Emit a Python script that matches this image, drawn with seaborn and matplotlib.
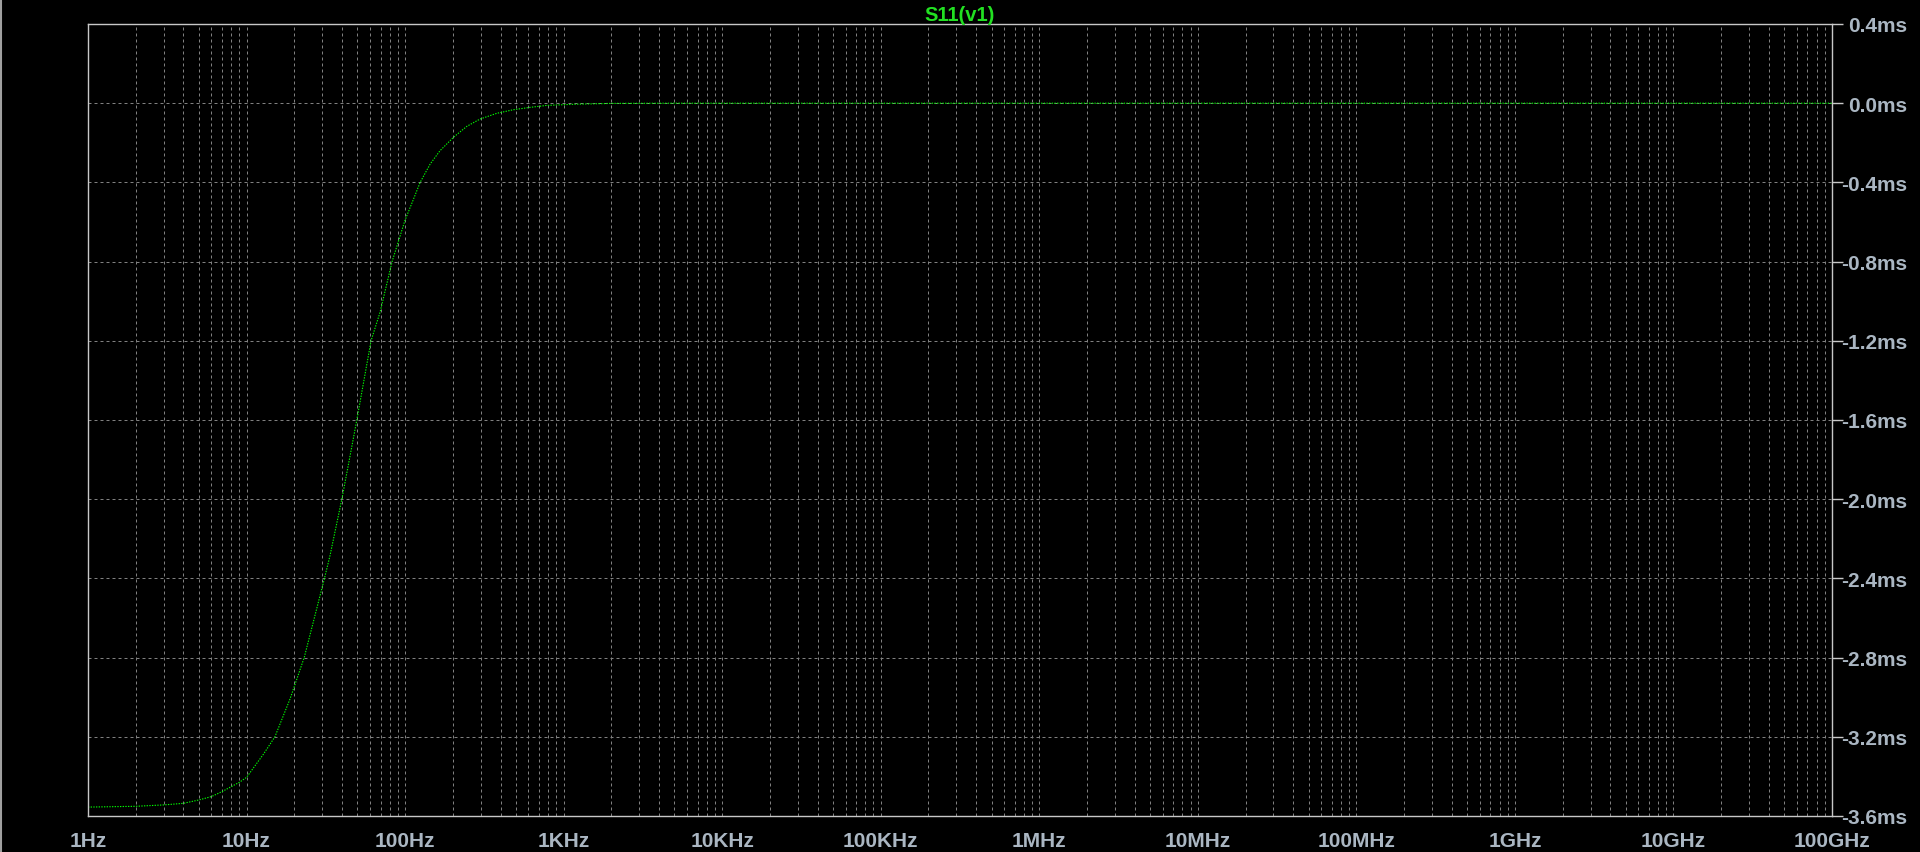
import numpy as np
import pandas as pd
import matplotlib
matplotlib.use("Agg")
import matplotlib.pyplot as plt
import seaborn as sns
from matplotlib.ticker import FixedLocator, LogLocator, NullFormatter
from matplotlib.lines import Line2D

# values (frequency in Hz, group delay in ms)
freq_hz = [1, 2, 3, 4, 5, 6, 7, 8, 9, 10, 12.8, 15.1, 18.8, 23.1, 31.0, 33.6,
           39.9, 45, 49.6, 61.0, 69.5, 82.8, 100, 111, 124.4, 144, 166, 202, 245,
           297, 379, 482, 615, 783, 1200, 2000, 5000, 1e11]
delay_ms = [-3.555, -3.551, -3.544, -3.536, -3.519, -3.502, -3.477, -3.452, -3.430,
            -3.405, -3.287, -3.200, -3.009, -2.800, -2.400, -2.285, -2.000,
            -1.780, -1.600, -1.200, -1.056, -0.800, -0.590, -0.500, -0.400, -0.307,
            -0.240, -0.172, -0.117, -0.080, -0.051, -0.033, -0.021, -0.011, -0.005,
            -0.001, 0.0, 0.0]

x_ticks = [1, 1e1, 1e2, 1e3, 1e4, 1e5, 1e6, 1e7, 1e8, 1e9, 1e10, 1e11]
x_labels = ["1Hz", "10Hz", "100Hz", "1KHz", "10KHz", "100KHz", "1MHz", "10MHz",
            "100MHz", "1GHz", "10GHz", "100GHz"]
y_ticks = [0.4, 0.0, -0.4, -0.8, -1.2, -1.6, -2.0, -2.4, -2.8, -3.2, -3.6]
y_labels = ["0.4ms", "0.0ms", "-0.4ms", "-0.8ms", "-1.2ms", "-1.6ms", "-2.0ms",
            "-2.4ms", "-2.8ms", "-3.2ms", "-3.6ms"]

df = pd.DataFrame({"freq": freq_hz, "delay": delay_ms})

sns.set_theme(style="dark", rc={"figure.facecolor": "black", "axes.facecolor": "black"})
plt.rcParams["font.family"] = ["Liberation Sans", "DejaVu Sans"]

fig = plt.figure(figsize=(19.2, 8.53), dpi=100)
W, H = 1920, 853
ax = fig.add_axes([88 / W, (H - 817) / H, (1832 - 88) / W, (817 - 25) / H])
ax.set_facecolor("black")

sns.lineplot(data=df, x="freq", y="delay", ax=ax, color="#00ff00", linewidth=0.8,
             linestyle=(0, (1.2, 1.2)))

ax.set_xscale("log")
ax.set_xlim(1, 1e11)
ax.set_ylim(-3.6, 0.4)

ax.xaxis.set_major_locator(FixedLocator(x_ticks))
ax.set_xticklabels(x_labels)
ax.xaxis.set_minor_locator(LogLocator(base=10, subs=np.arange(2, 10), numticks=100))
ax.xaxis.set_minor_formatter(NullFormatter())
ax.set_yticks(y_ticks)
ax.set_yticklabels(y_labels)

ax.yaxis.tick_right()
label_color = "#aab6c2"
ax.tick_params(axis="x", which="major", direction="out", length=8, width=1,
               color="#c8c8c8", labelcolor=label_color, labelsize=15, pad=3)
ax.tick_params(axis="x", which="minor", direction="inout", length=7, width=1,
               color="#c8c8c8")
ax.tick_params(axis="y", which="major", direction="out", length=8, width=1,
               color="#c8c8c8", labelcolor=label_color, labelsize=15, pad=46,
               left=False, right=True)
for lab in ax.get_yticklabels():
    lab.set_horizontalalignment("right")
for lab in ax.get_xticklabels() + ax.get_yticklabels():
    lab.set_fontweight("bold")

ax.grid(True, which="major", axis="both", color="#808080", linestyle=(0, (3, 3)),
        linewidth=0.72)
ax.grid(True, which="minor", axis="x", color="#808080", linestyle=(0, (3, 3)),
        linewidth=0.72)

for s in ax.spines.values():
    s.set_visible(True)
    s.set_color("#c8c8c8")
    s.set_linewidth(1.0)

ax.set_xlabel("")
ax.set_ylabel("")
ax.set_title("S11(v1)", color="#22e022", fontsize=14.5, fontweight="bold", pad=3)

# window edge
fig.add_artist(Line2D([1 / W, 1 / W], [0, 1], transform=fig.transFigure,
                      color="#a0a0a0", linewidth=1.5))

fig.savefig("out.png", dpi=100, facecolor="black")
